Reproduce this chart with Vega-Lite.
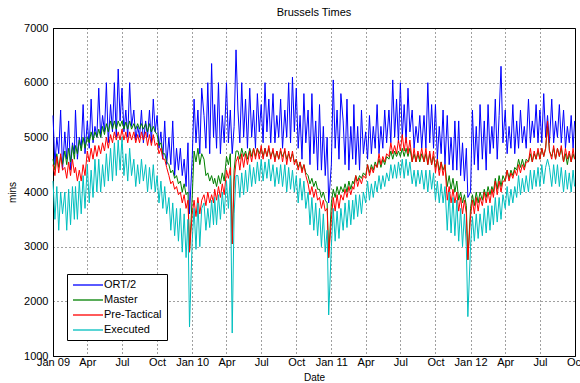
{
"$schema":"https://vega.github.io/schema/vega-lite/v6.json",
"width":522,"height":328,
"autosize":{"type":"none"},
"padding":{"left":53,"top":28,"right":5,"bottom":27},
"background":"white",
"title":{"text":"Brussels Times","fontSize":11,"fontWeight":"normal","font":"Liberation Sans","offset":4,"color":"black"},
"config":{
 "view":{"stroke":"black","strokeWidth":1},
 "axis":{"labelFont":"Liberation Sans","labelFontSize":11,"labelColor":"black","titleFont":"Liberation Sans","titleFontSize":10,"titleFontWeight":"normal","titleColor":"black","grid":true,"gridColor":"black","gridDash":[1,3],"gridOpacity":0.75,"domainColor":"black","ticks":false,"labelFlush":false,"labelOverlap":false},
 "legend":{"orient":"none","legendX":14,"legendY":246,"title":null,"strokeColor":"black","fillColor":"white","padding":5,"symbolType":"M-1,0H5","symbolSize":100,"symbolStrokeWidth":1.3,"labelFont":"Liberation Sans","labelFontSize":11,"labelColor":"black","labelOffset":20,"rowPadding":4,"cornerRadius":0}
},
"data":{"values":[
{"d":"2009-01-01","o":5400,"m":4600,"p":4500,"e":4200},
{"d":"2009-01-06","o":4500,"m":4400,"p":4300,"e":3500},
{"d":"2009-01-11","o":5000,"m":4700,"p":4650,"e":4100},
{"d":"2009-01-16","o":4700,"m":4450,"p":4350,"e":3300},
{"d":"2009-01-21","o":5500,"m":4650,"p":4700,"e":4000},
{"d":"2009-01-26","o":4400,"m":4500,"p":4400,"e":3600},
{"d":"2009-02-01","o":5100,"m":4750,"p":4450,"e":4000},
{"d":"2009-02-06","o":4600,"m":4500,"p":4250,"e":3300},
{"d":"2009-02-11","o":5300,"m":4800,"p":4550,"e":4050},
{"d":"2009-02-16","o":4400,"m":4550,"p":4300,"e":3400},
{"d":"2009-02-21","o":4900,"m":4850,"p":4600,"e":4100},
{"d":"2009-02-26","o":4700,"m":4600,"p":4350,"e":3500},
{"d":"2009-03-01","o":5500,"m":4850,"p":4450,"e":4100},
{"d":"2009-03-06","o":4600,"m":4700,"p":4200,"e":3500},
{"d":"2009-03-11","o":5000,"m":4950,"p":4400,"e":4200},
{"d":"2009-03-16","o":4800,"m":4750,"p":4200,"e":3600},
{"d":"2009-03-21","o":5600,"m":5000,"p":4500,"e":4300},
{"d":"2009-03-26","o":4700,"m":4800,"p":4300,"e":3700},
{"d":"2009-04-01","o":5300,"m":5000,"p":4750,"e":4500},
{"d":"2009-04-06","o":4800,"m":4900,"p":4550,"e":3800},
{"d":"2009-04-11","o":5700,"m":5100,"p":4800,"e":4400},
{"d":"2009-04-16","o":4900,"m":4950,"p":4600,"e":3900},
{"d":"2009-04-21","o":5200,"m":5100,"p":4850,"e":4600},
{"d":"2009-04-26","o":5000,"m":5000,"p":4650,"e":4000},
{"d":"2009-05-01","o":5900,"m":5150,"p":4850,"e":4600},
{"d":"2009-05-06","o":5000,"m":5000,"p":4700,"e":4000},
{"d":"2009-05-11","o":5400,"m":5200,"p":4900,"e":4500},
{"d":"2009-05-16","o":5100,"m":5050,"p":4750,"e":4100},
{"d":"2009-05-21","o":6000,"m":5250,"p":5000,"e":4700},
{"d":"2009-05-26","o":4900,"m":5100,"p":4800,"e":4200},
{"d":"2009-06-01","o":5600,"m":5300,"p":5050,"e":4800},
{"d":"2009-06-06","o":5100,"m":5150,"p":4900,"e":4200},
{"d":"2009-06-11","o":6000,"m":5300,"p":5100,"e":4900},
{"d":"2009-06-16","o":5000,"m":5150,"p":4950,"e":4300},
{"d":"2009-06-21","o":6250,"m":5300,"p":5100,"e":4950},
{"d":"2009-06-26","o":5300,"m":5200,"p":4950,"e":4400},
{"d":"2009-07-01","o":5900,"m":5300,"p":5150,"e":5000},
{"d":"2009-07-06","o":5100,"m":5150,"p":4950,"e":4300},
{"d":"2009-07-11","o":5500,"m":5280,"p":5100,"e":4700},
{"d":"2009-07-16","o":5000,"m":5150,"p":4900,"e":4200},
{"d":"2009-07-21","o":6000,"m":5300,"p":5100,"e":4800},
{"d":"2009-07-26","o":5200,"m":5150,"p":4950,"e":4300},
{"d":"2009-08-01","o":5500,"m":5250,"p":5100,"e":4600},
{"d":"2009-08-06","o":4950,"m":5150,"p":4900,"e":4100},
{"d":"2009-08-11","o":5200,"m":5250,"p":5050,"e":4500},
{"d":"2009-08-16","o":5000,"m":5150,"p":4900,"e":4150},
{"d":"2009-08-21","o":5500,"m":5250,"p":5100,"e":4600},
{"d":"2009-08-26","o":4900,"m":5150,"p":4950,"e":4200},
{"d":"2009-09-01","o":5300,"m":5250,"p":5100,"e":4500},
{"d":"2009-09-06","o":5000,"m":5100,"p":4850,"e":4000},
{"d":"2009-09-11","o":5500,"m":5250,"p":5050,"e":4450},
{"d":"2009-09-16","o":4900,"m":5100,"p":4850,"e":4050},
{"d":"2009-09-21","o":5700,"m":5200,"p":5050,"e":4500},
{"d":"2009-09-26","o":5100,"m":5100,"p":4850,"e":4000},
{"d":"2009-10-01","o":5400,"m":5050,"p":4900,"e":4300},
{"d":"2009-10-06","o":4800,"m":4850,"p":4700,"e":3800},
{"d":"2009-10-11","o":5100,"m":4900,"p":4800,"e":4200},
{"d":"2009-10-16","o":4600,"m":4700,"p":4600,"e":3700},
{"d":"2009-10-21","o":5300,"m":4700,"p":4600,"e":4100},
{"d":"2009-10-26","o":4500,"m":4550,"p":4450,"e":3600},
{"d":"2009-11-01","o":5000,"m":4500,"p":4300,"e":3900},
{"d":"2009-11-06","o":4500,"m":4350,"p":4150,"e":3300},
{"d":"2009-11-11","o":5300,"m":4400,"p":4200,"e":3800},
{"d":"2009-11-16","o":4300,"m":4250,"p":4050,"e":3200},
{"d":"2009-11-21","o":4800,"m":4300,"p":4100,"e":3700},
{"d":"2009-11-26","o":4400,"m":4150,"p":3950,"e":3100},
{"d":"2009-12-01","o":4800,"m":4200,"p":4000,"e":3700},
{"d":"2009-12-06","o":4300,"m":4000,"p":3800,"e":2900},
{"d":"2009-12-11","o":4600,"m":4150,"p":3950,"e":3600},
{"d":"2009-12-16","o":4100,"m":3950,"p":3700,"e":2800},
{"d":"2009-12-21","o":4900,"m":4000,"p":3850,"e":3500},
{"d":"2009-12-25","o":3600,"m":2900,"p":2900,"e":1530},
{"d":"2010-01-01","o":4600,"m":3900,"p":3600,"e":3100},
{"d":"2010-01-06","o":5700,"m":4750,"p":3850,"e":3700},
{"d":"2010-01-11","o":4900,"m":4550,"p":3550,"e":2950},
{"d":"2010-01-16","o":5500,"m":4800,"p":3900,"e":3800},
{"d":"2010-01-21","o":4700,"m":4500,"p":3600,"e":3000},
{"d":"2010-01-26","o":5900,"m":4700,"p":3850,"e":3700},
{"d":"2010-02-01","o":5400,"m":4600,"p":3950,"e":3800},
{"d":"2010-02-06","o":4800,"m":4300,"p":3750,"e":3300},
{"d":"2010-02-11","o":6000,"m":4350,"p":4000,"e":3700},
{"d":"2010-02-16","o":4700,"m":4200,"p":3800,"e":3350},
{"d":"2010-02-21","o":6350,"m":4300,"p":3950,"e":3850},
{"d":"2010-02-26","o":5000,"m":4150,"p":3800,"e":3400},
{"d":"2010-03-01","o":5600,"m":4250,"p":4050,"e":3900},
{"d":"2010-03-06","o":4800,"m":4100,"p":3850,"e":3400},
{"d":"2010-03-11","o":6000,"m":4300,"p":4100,"e":3950},
{"d":"2010-03-16","o":4700,"m":4150,"p":3900,"e":3500},
{"d":"2010-03-21","o":5400,"m":4350,"p":4150,"e":4000},
{"d":"2010-03-26","o":4900,"m":4200,"p":3950,"e":3600},
{"d":"2010-04-01","o":6000,"m":4650,"p":4400,"e":4200},
{"d":"2010-04-06","o":4900,"m":4500,"p":4250,"e":3700},
{"d":"2010-04-11","o":5500,"m":4700,"p":4450,"e":4300},
{"d":"2010-04-16","o":4700,"m":3050,"p":3050,"e":1420},
{"d":"2010-04-21","o":5200,"m":4400,"p":4200,"e":3600},
{"d":"2010-04-26","o":6600,"m":4750,"p":4550,"e":4300},
{"d":"2010-05-01","o":5500,"m":4750,"p":4650,"e":4300},
{"d":"2010-05-06","o":4900,"m":4600,"p":4400,"e":3900},
{"d":"2010-05-11","o":6000,"m":4800,"p":4700,"e":4350},
{"d":"2010-05-16","o":5000,"m":4650,"p":4450,"e":3950},
{"d":"2010-05-21","o":5700,"m":4750,"p":4700,"e":4400},
{"d":"2010-05-26","o":4800,"m":4600,"p":4500,"e":4000},
{"d":"2010-06-01","o":5900,"m":4800,"p":4750,"e":4500},
{"d":"2010-06-06","o":5000,"m":4650,"p":4550,"e":4100},
{"d":"2010-06-11","o":5500,"m":4800,"p":4800,"e":4450},
{"d":"2010-06-16","o":4800,"m":4650,"p":4600,"e":4150},
{"d":"2010-06-21","o":5800,"m":4800,"p":4800,"e":4550},
{"d":"2010-06-26","o":5100,"m":4700,"p":4600,"e":4200},
{"d":"2010-07-01","o":5600,"m":4800,"p":4850,"e":4600},
{"d":"2010-07-06","o":4900,"m":4650,"p":4600,"e":4200},
{"d":"2010-07-11","o":6000,"m":4800,"p":4800,"e":4550},
{"d":"2010-07-16","o":5100,"m":4650,"p":4650,"e":4250},
{"d":"2010-07-21","o":5700,"m":4800,"p":4850,"e":4600},
{"d":"2010-07-26","o":4900,"m":4650,"p":4600,"e":4200},
{"d":"2010-08-01","o":5800,"m":4750,"p":4800,"e":4500},
{"d":"2010-08-06","o":4900,"m":4600,"p":4550,"e":4100},
{"d":"2010-08-11","o":5400,"m":4750,"p":4750,"e":4450},
{"d":"2010-08-16","o":5000,"m":4600,"p":4600,"e":4150},
{"d":"2010-08-21","o":5700,"m":4750,"p":4800,"e":4500},
{"d":"2010-08-26","o":4800,"m":4650,"p":4550,"e":4100},
{"d":"2010-09-01","o":5500,"m":4750,"p":4800,"e":4500},
{"d":"2010-09-06","o":5000,"m":4600,"p":4500,"e":4000},
{"d":"2010-09-11","o":6000,"m":4700,"p":4750,"e":4450},
{"d":"2010-09-16","o":4900,"m":4600,"p":4550,"e":4050},
{"d":"2010-09-21","o":6100,"m":4700,"p":4750,"e":4400},
{"d":"2010-09-26","o":5100,"m":4550,"p":4500,"e":4000},
{"d":"2010-10-01","o":5900,"m":4600,"p":4600,"e":4300},
{"d":"2010-10-06","o":4800,"m":4450,"p":4400,"e":3800},
{"d":"2010-10-11","o":5400,"m":4550,"p":4550,"e":4250},
{"d":"2010-10-16","o":4600,"m":4400,"p":4350,"e":3850},
{"d":"2010-10-21","o":5800,"m":4500,"p":4500,"e":4200},
{"d":"2010-10-26","o":4900,"m":4350,"p":4300,"e":3700},
{"d":"2010-11-01","o":5500,"m":4300,"p":4150,"e":4000},
{"d":"2010-11-06","o":4500,"m":4150,"p":3950,"e":3400},
{"d":"2010-11-11","o":5800,"m":4250,"p":4100,"e":3900},
{"d":"2010-11-16","o":4700,"m":4100,"p":3900,"e":3300},
{"d":"2010-11-21","o":5300,"m":4200,"p":4050,"e":3800},
{"d":"2010-11-26","o":4400,"m":4050,"p":3850,"e":3200},
{"d":"2010-12-01","o":5600,"m":4050,"p":3900,"e":3700},
{"d":"2010-12-06","o":4400,"m":3900,"p":3700,"e":3000},
{"d":"2010-12-11","o":5200,"m":4000,"p":3850,"e":3600},
{"d":"2010-12-16","o":4300,"m":3850,"p":3650,"e":2900},
{"d":"2010-12-21","o":5000,"m":3800,"p":3700,"e":3300},
{"d":"2010-12-25","o":3800,"m":2800,"p":2800,"e":1750},
{"d":"2011-01-01","o":4500,"m":3800,"p":3500,"e":3000},
{"d":"2011-01-06","o":6050,"m":4050,"p":3900,"e":3700},
{"d":"2011-01-11","o":4800,"m":3900,"p":3650,"e":3100},
{"d":"2011-01-16","o":5500,"m":4100,"p":3950,"e":3650},
{"d":"2011-01-21","o":4600,"m":3950,"p":3700,"e":3150},
{"d":"2011-01-26","o":5800,"m":4100,"p":3950,"e":3700},
{"d":"2011-02-01","o":5300,"m":4000,"p":3850,"e":3300},
{"d":"2011-02-06","o":4500,"m":4150,"p":4050,"e":3800},
{"d":"2011-02-11","o":5700,"m":4000,"p":3900,"e":3350},
{"d":"2011-02-16","o":4400,"m":4200,"p":4100,"e":3850},
{"d":"2011-02-21","o":5200,"m":4050,"p":3950,"e":3400},
{"d":"2011-02-26","o":4600,"m":4200,"p":4100,"e":3850},
{"d":"2011-03-01","o":5600,"m":4150,"p":4050,"e":3500},
{"d":"2011-03-06","o":4500,"m":4300,"p":4300,"e":3950},
{"d":"2011-03-11","o":5200,"m":4200,"p":4100,"e":3550},
{"d":"2011-03-16","o":4400,"m":4300,"p":4250,"e":3950},
{"d":"2011-03-21","o":5500,"m":4250,"p":4150,"e":3600},
{"d":"2011-03-26","o":4700,"m":4350,"p":4300,"e":4000},
{"d":"2011-04-01","o":5100,"m":4300,"p":4250,"e":3800},
{"d":"2011-04-06","o":4600,"m":4500,"p":4500,"e":4200},
{"d":"2011-04-11","o":5400,"m":4350,"p":4300,"e":3850},
{"d":"2011-04-16","o":4700,"m":4500,"p":4450,"e":4150},
{"d":"2011-04-21","o":5200,"m":4400,"p":4350,"e":3900},
{"d":"2011-04-26","o":4800,"m":4550,"p":4500,"e":4200},
{"d":"2011-05-01","o":5600,"m":4450,"p":4450,"e":4000},
{"d":"2011-05-06","o":4700,"m":4600,"p":4700,"e":4300},
{"d":"2011-05-11","o":5200,"m":4450,"p":4500,"e":4050},
{"d":"2011-05-16","o":4800,"m":4600,"p":4650,"e":4300},
{"d":"2011-05-21","o":5500,"m":4500,"p":4550,"e":4100},
{"d":"2011-05-26","o":4900,"m":4650,"p":4700,"e":4350},
{"d":"2011-06-01","o":5500,"m":4600,"p":4650,"e":4200},
{"d":"2011-06-06","o":4900,"m":4750,"p":4900,"e":4500},
{"d":"2011-06-11","o":6050,"m":4600,"p":4700,"e":4250},
{"d":"2011-06-16","o":5000,"m":4750,"p":4850,"e":4500},
{"d":"2011-06-21","o":5700,"m":4650,"p":4700,"e":4250},
{"d":"2011-06-26","o":4900,"m":4750,"p":4950,"e":4550},
{"d":"2011-07-01","o":6000,"m":4650,"p":4750,"e":4300},
{"d":"2011-07-06","o":5000,"m":4800,"p":5050,"e":4600},
{"d":"2011-07-11","o":5600,"m":4650,"p":4750,"e":4250},
{"d":"2011-07-16","o":4900,"m":4800,"p":5000,"e":4600},
{"d":"2011-07-21","o":5900,"m":4650,"p":4700,"e":4300},
{"d":"2011-07-26","o":5100,"m":4800,"p":4950,"e":4550},
{"d":"2011-08-01","o":5500,"m":4550,"p":4550,"e":4150},
{"d":"2011-08-06","o":4800,"m":4700,"p":4800,"e":4400},
{"d":"2011-08-11","o":5200,"m":4550,"p":4550,"e":4100},
{"d":"2011-08-16","o":4900,"m":4700,"p":4750,"e":4400},
{"d":"2011-08-21","o":5400,"m":4550,"p":4600,"e":4150},
{"d":"2011-08-26","o":4800,"m":4700,"p":4800,"e":4400},
{"d":"2011-09-01","o":5400,"m":4550,"p":4550,"e":4050},
{"d":"2011-09-06","o":4800,"m":4700,"p":4800,"e":4400},
{"d":"2011-09-11","o":6000,"m":4500,"p":4500,"e":4000},
{"d":"2011-09-16","o":4900,"m":4700,"p":4750,"e":4400},
{"d":"2011-09-21","o":5600,"m":4500,"p":4500,"e":4050},
{"d":"2011-09-26","o":4800,"m":4650,"p":4750,"e":4350},
{"d":"2011-10-01","o":5600,"m":4450,"p":4350,"e":3850},
{"d":"2011-10-06","o":4600,"m":4600,"p":4600,"e":4200},
{"d":"2011-10-11","o":5200,"m":4400,"p":4300,"e":3800},
{"d":"2011-10-16","o":4700,"m":4550,"p":4550,"e":4150},
{"d":"2011-10-21","o":5500,"m":4400,"p":4300,"e":3800},
{"d":"2011-10-26","o":4500,"m":4500,"p":4500,"e":4100},
{"d":"2011-11-01","o":5400,"m":4100,"p":3850,"e":3300},
{"d":"2011-11-06","o":4500,"m":4300,"p":4100,"e":4000},
{"d":"2011-11-11","o":5000,"m":4050,"p":3800,"e":3250},
{"d":"2011-11-16","o":4400,"m":4250,"p":4050,"e":3900},
{"d":"2011-11-21","o":5300,"m":4000,"p":3800,"e":3200},
{"d":"2011-11-26","o":4400,"m":4200,"p":4000,"e":3850},
{"d":"2011-12-01","o":5300,"m":3850,"p":3650,"e":3100},
{"d":"2011-12-06","o":4300,"m":4000,"p":3900,"e":3700},
{"d":"2011-12-11","o":4900,"m":3800,"p":3600,"e":3000},
{"d":"2011-12-16","o":4200,"m":3950,"p":3850,"e":3600},
{"d":"2011-12-21","o":4800,"m":3750,"p":3600,"e":3000},
{"d":"2011-12-25","o":3900,"m":2760,"p":2760,"e":1720},
{"d":"2012-01-01","o":4000,"m":3700,"p":3550,"e":3000},
{"d":"2012-01-06","o":5500,"m":3950,"p":3850,"e":3550},
{"d":"2012-01-11","o":4500,"m":3750,"p":3600,"e":3100},
{"d":"2012-01-16","o":5200,"m":4000,"p":3900,"e":3600},
{"d":"2012-01-21","o":4400,"m":3800,"p":3650,"e":3150},
{"d":"2012-01-26","o":5600,"m":4000,"p":3900,"e":3600},
{"d":"2012-02-01","o":4600,"m":3850,"p":3750,"e":3200},
{"d":"2012-02-06","o":5300,"m":4050,"p":4000,"e":3700},
{"d":"2012-02-11","o":4400,"m":3900,"p":3800,"e":3250},
{"d":"2012-02-16","o":5600,"m":4100,"p":4000,"e":3750},
{"d":"2012-02-21","o":4700,"m":3950,"p":3800,"e":3300},
{"d":"2012-02-26","o":5200,"m":4100,"p":4050,"e":3750},
{"d":"2012-03-01","o":4800,"m":4000,"p":3900,"e":3400},
{"d":"2012-03-06","o":5700,"m":4250,"p":4200,"e":3900},
{"d":"2012-03-11","o":4600,"m":4050,"p":3950,"e":3450},
{"d":"2012-03-16","o":5400,"m":4300,"p":4200,"e":3900},
{"d":"2012-03-21","o":6300,"m":4100,"p":4000,"e":3500},
{"d":"2012-03-26","o":4900,"m":4300,"p":4200,"e":3950},
{"d":"2012-04-01","o":5500,"m":4200,"p":4200,"e":3700},
{"d":"2012-04-06","o":4700,"m":4400,"p":4400,"e":4100},
{"d":"2012-04-11","o":5200,"m":4250,"p":4200,"e":3750},
{"d":"2012-04-16","o":4800,"m":4400,"p":4350,"e":4050},
{"d":"2012-04-21","o":5600,"m":4300,"p":4250,"e":3800},
{"d":"2012-04-26","o":4700,"m":4450,"p":4400,"e":4100},
{"d":"2012-05-01","o":5300,"m":4400,"p":4300,"e":3900},
{"d":"2012-05-06","o":4800,"m":4600,"p":4500,"e":4300},
{"d":"2012-05-11","o":5500,"m":4450,"p":4350,"e":3950},
{"d":"2012-05-16","o":4900,"m":4600,"p":4500,"e":4250},
{"d":"2012-05-21","o":5200,"m":4450,"p":4400,"e":4000},
{"d":"2012-05-26","o":4800,"m":4600,"p":4550,"e":4300},
{"d":"2012-06-01","o":5700,"m":4550,"p":4550,"e":4000},
{"d":"2012-06-06","o":4900,"m":4700,"p":4800,"e":4400},
{"d":"2012-06-11","o":5300,"m":4550,"p":4550,"e":4050},
{"d":"2012-06-16","o":5000,"m":4700,"p":4750,"e":4400},
{"d":"2012-06-21","o":5600,"m":4600,"p":4600,"e":4100},
{"d":"2012-06-26","o":4900,"m":4750,"p":4800,"e":4450},
{"d":"2012-07-01","o":5500,"m":4600,"p":4600,"e":4100},
{"d":"2012-07-06","o":4900,"m":4800,"p":4800,"e":4500},
{"d":"2012-07-11","o":5800,"m":4650,"p":4650,"e":4150},
{"d":"2012-07-16","o":5000,"m":4800,"p":4800,"e":4450},
{"d":"2012-07-21","o":5400,"m":5200,"p":5300,"e":4600},
{"d":"2012-07-26","o":4900,"m":4750,"p":4750,"e":4450},
{"d":"2012-08-01","o":5700,"m":4650,"p":4600,"e":4100},
{"d":"2012-08-06","o":4900,"m":4800,"p":4850,"e":4500},
{"d":"2012-08-11","o":5300,"m":4600,"p":4600,"e":4150},
{"d":"2012-08-16","o":5000,"m":4800,"p":4800,"e":4500},
{"d":"2012-08-21","o":5600,"m":4650,"p":4650,"e":4100},
{"d":"2012-08-26","o":4900,"m":4800,"p":4850,"e":4450},
{"d":"2012-09-01","o":5500,"m":4550,"p":4550,"e":4000},
{"d":"2012-09-06","o":4800,"m":4700,"p":4800,"e":4400},
{"d":"2012-09-11","o":5200,"m":4500,"p":4600,"e":4050},
{"d":"2012-09-16","o":4900,"m":4700,"p":4750,"e":4350},
{"d":"2012-09-21","o":5400,"m":4550,"p":4550,"e":4000},
{"d":"2012-09-26","o":4800,"m":4700,"p":4800,"e":4400},
{"d":"2012-09-30","o":5300,"m":4600,"p":4600,"e":4100}
]},
"transform":[{"fold":["o","m","p","e"],"as":["k","v"]}],
"encoding":{
 "x":{"field":"d","type":"temporal","title":"Date",
  "scale":{"type":"utc","domain":[{"year":2009,"month":1,"date":1,"utc":true},{"year":2012,"month":10,"date":1,"utc":true}]},
  "axis":{"tickCount":{"interval":"month","step":3},"labelExpr":"utcmonth(datum.value) == 0 ? utcFormat(datum.value, '%b %y') : utcFormat(datum.value, '%b')","labelPadding":0,"titlePadding":5}},
 "y":{"field":"v","type":"quantitative","title":"mins",
  "scale":{"domain":[1000,7000],"nice":false,"zero":false},
  "axis":{"values":[1000,2000,3000,4000,5000,6000,7000],"format":"d","labelPadding":5,"titlePadding":6}}
},
"layer":[
 {"transform":[{"filter":"datum.k == 'o'"}],"mark":{"type":"line","strokeWidth":1},
  "encoding":{"color":{"datum":"ORT/2","scale":{"domain":["ORT/2","Master","Pre-Tactical","Executed"],"range":["#0000FF","#008000","#FF0000","#00BFBF"]}}}},
 {"transform":[{"filter":"datum.k == 'm'"}],"mark":{"type":"line","strokeWidth":1},
  "encoding":{"color":{"datum":"Master"}}},
 {"transform":[{"filter":"datum.k == 'p'"}],"mark":{"type":"line","strokeWidth":1},
  "encoding":{"color":{"datum":"Pre-Tactical"}}},
 {"transform":[{"filter":"datum.k == 'e'"}],"mark":{"type":"line","strokeWidth":1},
  "encoding":{"color":{"datum":"Executed"}}}
]
}
